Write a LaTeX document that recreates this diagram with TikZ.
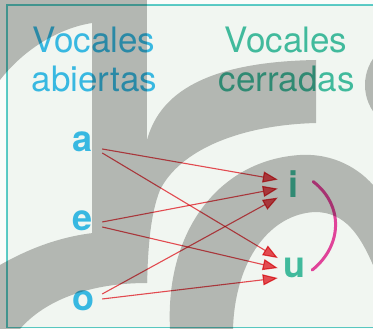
\documentclass[tikz,border=0pt]{standalone}
\usepackage{fontspec}
\setmainfont{TeX Gyre Heros}
\usepackage{xcolor}
\usepackage{tikz}
\usetikzlibrary{arrows.meta,positioning,calc}

\definecolor{blanco}{HTML}{FAFCFA}
\definecolor{fondo}{HTML}{F1F6F1}
\definecolor{sello}{HTML}{B3B7B2}
\definecolor{marco}{HTML}{5ECFCC}
\definecolor{abierta}{HTML}{3CBFEF}
\definecolor{cerrada}{HTML}{45C1A6}
\definecolor{rojo}{HTML}{F04E55}
\definecolor{rosa}{HTML}{EE46A2}

\tikzset{
  titulo/.style={font=\fontsize{35}{39}\selectfont, inner sep=0pt, anchor=base},
  vocal/.style={font=\fontsize{36}{40}\selectfont\bfseries, inner sep=0pt, anchor=base},
  flecha/.style={draw=rojo, line width=1.1pt, -{Triangle[length=15pt,width=11pt]}},
  arco/.style={draw=rosa, line width=3pt, line cap=round},
}

\begin{document}
\begin{tikzpicture}[x=1pt, y=-1pt]
    \useasboundingbox (0,0) rectangle (373,329);
    \clip (0,0) rectangle (373,329);

    % Fondo
    \fill[blanco] (0,0) rectangle (373,329);
    \fill[fondo] (7,5) rectangle (380,327.5);

    % Marca de agua
    \fill[sello] (0,0) -- (92,0) -- (92,23) .. controls (60,28) and (25,48) .. (0,80) -- cycle;
    \fill[sello] (92,0) rectangle (147,283);
    \fill[sello] (0,265) .. controls (30,248) and (60,237) .. (93,233) -- (147,240) -- (147,283)
        .. controls (90,283) and (45,300) .. (20,329) -- (0,329) -- cycle;
    \fill[sello] (147,140) .. controls (158,100) and (195,62) .. (316,60) -- (316,123)
        .. controls (240,125) and (180,150) .. (160,190)
        .. controls (150,215) and (148,250) .. (147,283) -- cycle;
    \fill[sello] (170,329) .. controls (165,230) and (220,160) .. (300,155)
        .. controls (335,153) and (360,170) .. (373,185) -- (373,265)
        .. controls (360,235) and (345,212) .. (315,212)
        .. controls (270,214) and (235,260) .. (233,329) -- cycle;
    \fill[sello] (412,85) circle (47);

    \begin{scope}[blend mode=multiply]
    % Marco
    \draw[marco, line width=1.5pt] (380,5) -- (7,5) -- (7,327.5) -- (380,327.5);

    % Titulos
    \node[titulo, text=abierta] (vocA) at (94,53) {Vocales};
    \node[titulo, text=abierta] (abiertas) at (94.5,92) {abiertas};
    \node[titulo, text=cerrada] (vocC) at (286,53) {Vocales};
    \node[titulo, text=cerrada] (cerradas) at (286.5,92) {cerradas};

    % Vocales
    \node[vocal, text=abierta] (a) at (83,152) {a};
    \node[vocal, text=abierta] (e) at (83,231) {e};
    \node[vocal, text=abierta] (o) at (83,311) {o};
    \node[vocal, text=cerrada] (i) at (294,197) {i};
    \node[vocal, text=cerrada] (u) at (294,277) {u};

    % Flechas
    \draw[flecha] ([shift={(9,6.7)}]a.east) -- ([shift={(-11,-4)}]i.west);
    \draw[flecha] ([shift={(9,10.7)}]a.east) -- ([shift={(-5,-9.4)}]u.west);
    \draw[flecha] ([shift={(9,0.7)}]e.east) -- ([shift={(-11,5)}]i.west);
    \draw[flecha] ([shift={(9,5.7)}]e.east) -- ([shift={(-5,0.6)}]u.west);
    \draw[flecha] ([shift={(8,-7.3)}]o.east) -- ([shift={(-11,14)}]i.west);
    \draw[flecha] ([shift={(8,-2.3)}]o.east) -- ([shift={(-5,10.6)}]u.west);

    % Arco i-u
    \draw[arco] ([shift={(14,-2)}]i.east) .. controls +(30,23) and +(31,-25) .. ([shift={(7,2.6)}]u.east);
    \end{scope}
\end{tikzpicture}
\end{document}
